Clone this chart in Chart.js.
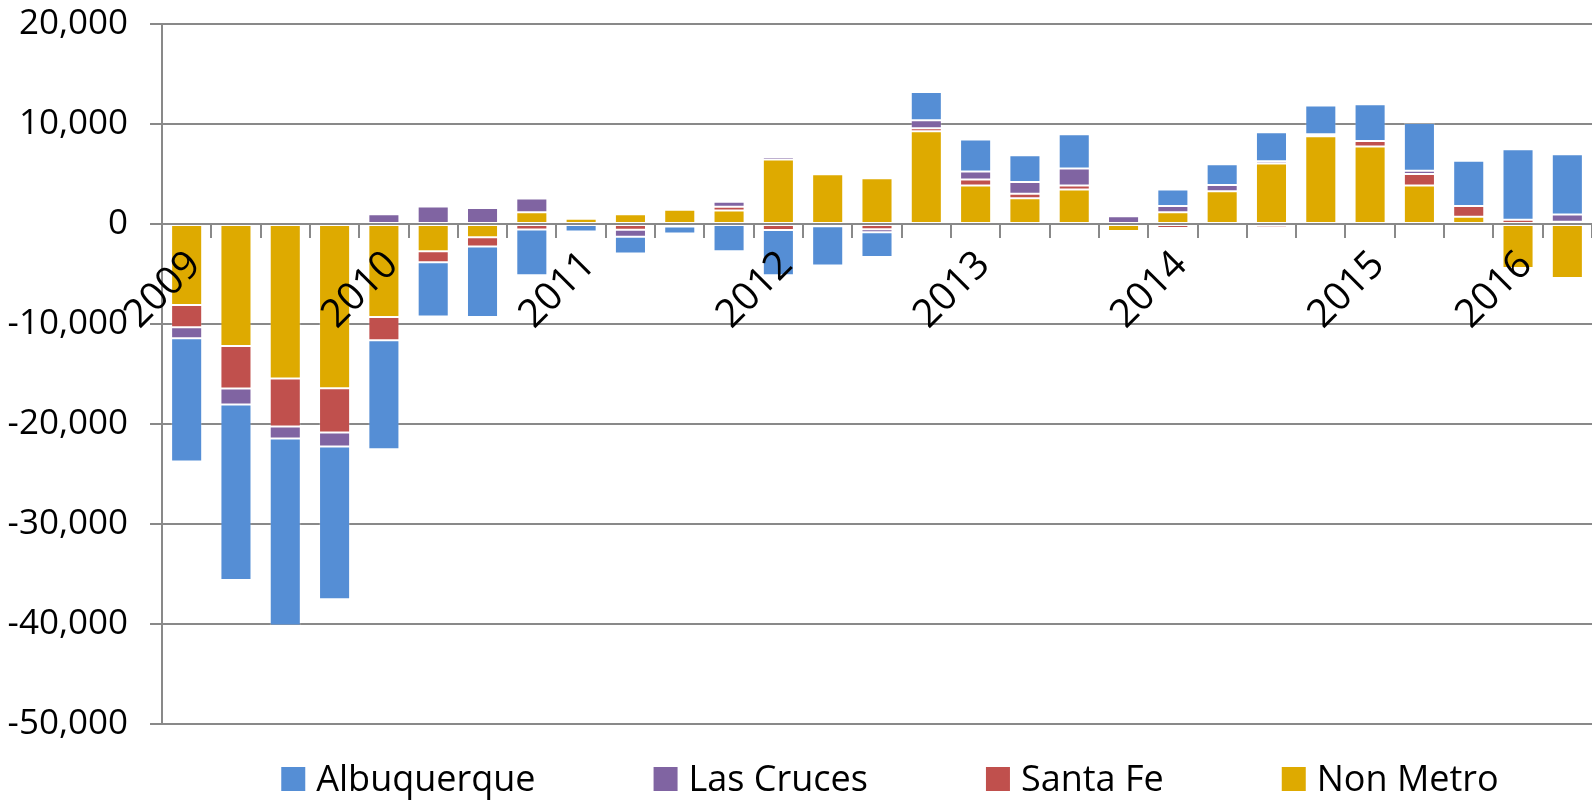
<!DOCTYPE html>
<html>
<head>
<meta charset="utf-8">
<title>Employment change by area</title>
<script src="https://cdn.jsdelivr.net/npm/chart.js@4"></script>
<style>
  html, body { margin: 0; padding: 0; background: #fff; }
  #wrap { width: 1592px; height: 801px; position: relative; }
</style>
</head>
<body>
<div id="wrap"><canvas id="chart"></canvas></div>
<script>
// quarters, only the first of each year (and 2016) carries a label
const labels = [
  "2009", "", "", "",
  "2010", "", "", "",
  "2011", "", "", "",
  "2012", "", "", "",
  "2013", "", "", "",
  "2014", "", "", "",
  "2015", "", "", "2016", ""
];

const nonMetro = [
  -8100, -12200, -15460, -16430, -9300, -2730, -1330, 1180,
  520, 980, 1420, 1350, 6440, 4970, 4570, 9270,
  3840, 2570, 3440, -700, 1170, 3270, 6040, 8770,
  7750, 3860, 730, -4400, -5400
];
const santaFe = [
  -2230, -4260, -4800, -4430, -2330, -1100, -930, -550,
  0, -580, 100, 370, -600, 0, -530, 300,
  600, 460, 400, 0, -400, 0, -330, -100,
  550, 1140, 1070, 430, 230
];
const lasCruces = [
  -1100, -1600, -1200, -1400, 970, 1740, 1600, 1370,
  60, -700, -250, 500, 260, -230, -300, 800,
  800, 1170, 1700, 770, 630, 630, 230, 200,
  -100, 330, 0, -70, 730
];
const albuquerque = [
  -12330, -17540, -18700, -15270, -10900, -5430, -7040, -4570,
  -750, -1670, -700, -2720, -4530, -3930, -2470, 2830,
  3200, 2670, 3430, 0, 1640, 2070, 2900, 2870,
  3670, 4770, 4530, 7040, 6010
];

const yTicks = [20000, 10000, 0, -10000, -20000, -30000, -40000, -50000];

const gridColor = "#898989";
const fontFamily = "'Open Sans', 'DejaVu Sans', sans-serif";

// legend drawn under the plot, Excel style (Albuquerque first)
const bottomLegend = {
  id: "bottomLegend",
  afterDraw(chart) {
    const ctx = chart.ctx;
    const items = chart.data.datasets.slice().reverse();
    const box = 24, boxGap = 11, itemGap = 118;
    ctx.save();
    ctx.font = "36px " + fontFamily;
    const widths = items.map(d => box + boxGap + ctx.measureText(d.label).width);
    const total = widths.reduce((a, b) => a + b, 0) + itemGap * (items.length - 1);
    let x = 890 - total / 2;
    const base = 791;
    items.forEach((d, i) => {
      ctx.fillStyle = d.backgroundColor;
      ctx.fillRect(x, base - box, box, box);
      ctx.fillStyle = "#000";
      ctx.textBaseline = "alphabetic";
      ctx.textAlign = "left";
      ctx.fillText(d.label, x + box + boxGap, base);
      x += widths[i] + itemGap;
    });
    ctx.restore();
  }
};

const ctx = document.getElementById("chart").getContext("2d");

new Chart(ctx, {
  type: "bar",
  data: {
    labels: labels,
    datasets: [
      { label: "Non Metro", data: nonMetro, backgroundColor: "#DEAA00" },
      { label: "Santa Fe", data: santaFe, backgroundColor: "#C0504D" },
      { label: "Las Cruces", data: lasCruces, backgroundColor: "#8064A2" },
      { label: "Albuquerque", data: albuquerque, backgroundColor: "#558ED5" }
    ]
  },
  options: {
    responsive: true,
    maintainAspectRatio: false,
    animation: false,
    datasets: {
      bar: {
        categoryPercentage: 1,
        barPercentage: 0.63,
        borderWidth: 1,
        borderColor: "rgba(255,255,255,0.22)",
        borderSkipped: false
      }
    },
    layout: { padding: { top: 24, bottom: 77, left: 0, right: 0 } },
    plugins: {
      legend: { display: false },
      tooltip: { enabled: false }
    },
    scales: {
      x: {
        stacked: true,
        position: { y: 0 },
        afterFit: scale => {
          scale.paddingLeft = 0;
          scale.paddingRight = 0;
        },
        grid: {
          drawOnChartArea: false,
          drawTicks: true,
          tickLength: 13,
          color: gridColor,
          lineWidth: 2
        },
        border: { color: gridColor, width: 2 },
        ticks: {
          z: 1,
          autoSkip: false,
          minRotation: 45,
          maxRotation: 45,
          padding: 5,
          labelOffset: 8,
          color: "#000",
          font: { family: fontFamily, size: 39 }
        }
      },
      y: {
        stacked: true,
        min: yTicks[yTicks.length - 1],
        max: yTicks[0],
        afterBuildTicks: scale => {
          scale.ticks = yTicks.map(v => ({ value: v }));
        },
        afterFit: scale => {
          scale.width = 162;
          scale.paddingTop = 20;
          scale.paddingBottom = 20;
        },
        grid: {
          color: gridColor,
          lineWidth: 2,
          tickLength: 12
        },
        border: { color: gridColor, width: 2 },
        ticks: {
          padding: 22,
          color: "#000",
          font: { family: fontFamily, size: 35 },
          callback: v => v.toLocaleString("en-US")
        }
      }
    }
  },
  plugins: [bottomLegend]
});
</script>
</body>
</html>
